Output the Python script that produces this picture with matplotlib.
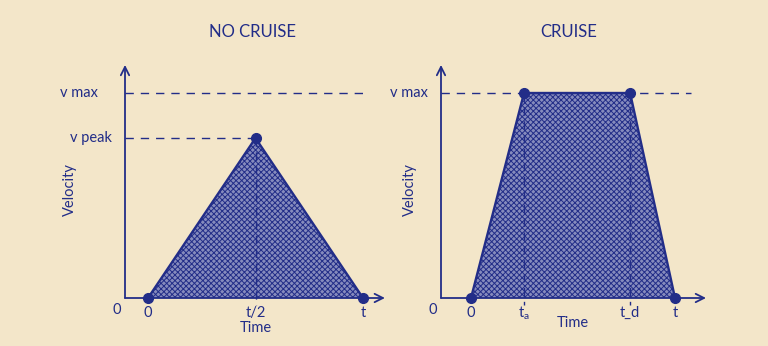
import matplotlib.pyplot as plt
import matplotlib as mpl

# data (velocity normalised to v max = 1, time normalised to t = 1)
nc_time = [0.0, 0.5, 1.0]
nc_vel = [0.0, 0.78, 0.0]
nc_vmax = 1.0

cr_time = [0.0, 0.26, 0.78, 1.0]
cr_vel = [0.0, 1.0, 1.0, 0.0]
cr_vmax = 1.0

nc_ticks = [0.0, 0.5, 1.0]
nc_ticklabels = ["0", "t/2", "t"]
cr_ticks = [0.0, 0.26, 0.78, 1.0]
cr_ticklabels = ["0", "t$_\\mathregular{a}$", "t_d", "t"]

ink = "#222d88"
paper = "#f3e6c9"
fillc = "#868bbd"

plt.rcParams["font.family"] = ["Lato", "DejaVu Sans"]
plt.rcParams["hatch.linewidth"] = 0.7

fig = plt.figure(figsize=(7.68, 3.46), dpi=100, facecolor=paper)


def make_axes(left_px, right_px, x0_px, x1_px):
    # axes placed in pixels, with data x=0 at x0_px and x=1 at x1_px
    W, H = 768, 346
    ax = fig.add_axes([left_px / W, (H - 298) / H, (right_px - left_px) / W, (298 - 55) / H])
    sc = x1_px - x0_px
    ax.set_xlim((left_px - x0_px) / sc, (right_px - x0_px) / sc)
    ax.set_ylim(0, (298 - 55) / 205)
    ax.axis("off")
    ax.patch.set_alpha(0)
    return ax, sc


def axes_arrows(ax, xmin, xend, ytop):
    ap = dict(arrowstyle="->", color=ink, lw=1.3, mutation_scale=15, shrinkA=0, shrinkB=0)
    ax.annotate("", xy=(xend, 0), xytext=(xmin, 0), arrowprops=ap, annotation_clip=False)
    ax.annotate("", xy=(xmin, ytop), xytext=(xmin, 0), arrowprops=ap, annotation_clip=False)


fs = 10.5

# ---------- NO CRUISE ----------
ax1, sc1 = make_axes(125, 395, 148, 363)
xmin1 = ax1.get_xlim()[0]
axes_arrows(ax1, xmin1, 1.102, 1.137)

ax1.fill(nc_time, nc_vel, facecolor=fillc, edgecolor=ink, hatch="xxxxxx", lw=0)
ax1.plot(nc_time, nc_vel, color=ink, lw=1.7, zorder=3)
ax1.plot(nc_time, nc_vel, "o", color=ink, ms=7, zorder=4, clip_on=False)

ax1.plot([xmin1, 1.03], [nc_vmax, nc_vmax], color=ink, lw=1, ls=(0, (6, 5)))
ax1.plot([xmin1, nc_time[1]], [nc_vel[1], nc_vel[1]], color=ink, lw=1, ls=(0, (6, 5)))
ax1.plot([nc_time[1], nc_time[1]], [nc_vel[1], -0.035], color=ink, lw=1, ls=(0, (6, 4)), clip_on=False, zorder=3)

ax1.text(-0.233, nc_vmax, "v max", color=ink, fontsize=fs, ha="right", va="center")
ax1.text(-0.167, nc_vel[1], "v peak", color=ink, fontsize=fs, ha="right", va="center")
ax1.text(-0.363, 0.53, "Velocity", color=ink, fontsize=fs, rotation=90, ha="center", va="center")
ax1.text(-0.144, -0.059, "0", color=ink, fontsize=fs, ha="center", va="center")
for tk, lab in zip(nc_ticks, nc_ticklabels):
    ax1.text(tk, -0.073, lab, color=ink, fontsize=fs, ha="center", va="center")
ax1.text(0.5, -0.146, "Time", color=ink, fontsize=fs, ha="center", va="center")
ax1.text(0.484, 1.298, "NO CRUISE", color=ink, fontsize=12, ha="center", va="center")

# ---------- CRUISE ----------
ax2, sc2 = make_axes(441, 715, 471, 675)
xmin2 = ax2.get_xlim()[0]
axes_arrows(ax2, xmin2, 1.152, 1.137)

ax2.fill(cr_time, cr_vel, facecolor=fillc, edgecolor=ink, hatch="xxxxxx", lw=0)
ax2.plot(cr_time, cr_vel, color=ink, lw=1.7, zorder=3)
ax2.plot(cr_time, cr_vel, "o", color=ink, ms=7, zorder=4, clip_on=False)

ax2.plot([xmin2, 1.08], [cr_vmax, cr_vmax], color=ink, lw=1, ls=(0, (6, 5)))
for tk in cr_time[1:3]:
    ax2.plot([tk, tk], [cr_vmax, -0.035], color=ink, lw=1, ls=(0, (6, 4)), clip_on=False, zorder=3)

ax2.text(-0.211, cr_vmax, "v max", color=ink, fontsize=fs, ha="right", va="center")
ax2.text(-0.299, 0.53, "Velocity", color=ink, fontsize=fs, rotation=90, ha="center", va="center")
ax2.text(-0.186, -0.059, "0", color=ink, fontsize=fs, ha="center", va="center")
for tk, lab in zip(cr_ticks, cr_ticklabels):
    ax2.text(tk, -0.073, lab, color=ink, fontsize=fs, ha="center", va="center")
ax2.text(0.5, -0.122, "Time", color=ink, fontsize=fs, ha="center", va="center")
ax2.text(0.48, 1.298, "CRUISE", color=ink, fontsize=12, ha="center", va="center")

fig.savefig("out.png", dpi=100, facecolor=paper)
